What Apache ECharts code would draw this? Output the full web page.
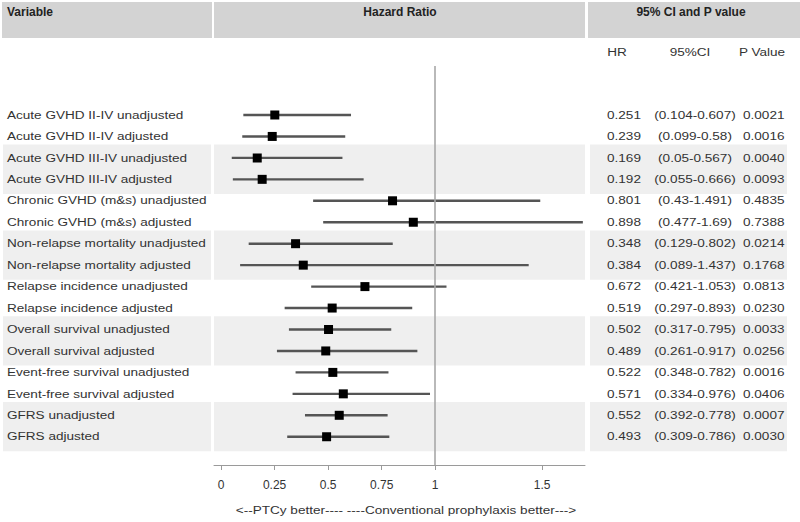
<!DOCTYPE html>
<html><head><meta charset="utf-8">
<script src="https://cdn.jsdelivr.net/npm/echarts@6/dist/echarts.min.js"></script>
<style>html,body{margin:0;padding:0;background:#fff}#c{width:800px;height:522px}</style>
</head><body><div id="c"></div>
<script>
// ---- data ----
const variables = [
  'Acute GVHD II-IV unadjusted','Acute GVHD II-IV adjusted',
  'Acute GVHD III-IV unadjusted','Acute GVHD III-IV adjusted',
  'Chronic GVHD (m&s) unadjusted','Chronic GVHD (m&s) adjusted',
  'Non-relapse mortality unadjusted','Non-relapse mortality adjusted',
  'Relapse incidence unadjusted','Relapse incidence adjusted',
  'Overall survival unadjusted','Overall survival adjusted',
  'Event-free survival unadjusted','Event-free survival adjusted',
  'GFRS unadjusted','GFRS adjusted'
];
const hazardRatios = [0.251,0.239,0.169,0.192,0.801,0.898,0.348,0.384,0.672,0.519,0.502,0.489,0.522,0.571,0.552,0.493];
const ciLower = [0.104,0.099,0.05,0.055,0.43,0.477,0.129,0.089,0.421,0.297,0.317,0.261,0.348,0.334,0.392,0.309];
const ciUpper = [0.607,0.58,0.567,0.666,1.491,1.69,0.802,1.437,1.053,0.893,0.795,0.917,0.782,0.976,0.778,0.786];
const pValues = ['0.0021','0.0016','0.0040','0.0093','0.4835','0.7388','0.0214','0.1768','0.0813','0.0230','0.0033','0.0256','0.0016','0.0406','0.0007','0.0030'];
const xTicks = [0, 0.25, 0.5, 0.75, 1, 1.5];
const shadedRowPairs = [[2,3],[6,7],[10,11],[14,15]];
const headers = ['Variable','Hazard Ratio','95% CI and P value'];
const subHeaders = ['HR','95%CI','P Value'];
const axisTitle = '<--PTCy better---- ----Conventional prophylaxis better--->';

// ---- layout ----
const FONT = '"Liberation Sans", Arial, sans-serif';
const SX = 1.18;
const TXT = '#333';
const rows = variables.map((v, i) => i);
const Y_MIN = -2.284, Y_MAX = 16.317;
const GRID_TOP = 66, GRID_H = 399;

const bandArea = {
  silent: true,
  itemStyle: { color: '#efefef' },
  data: shadedRowPairs.map(([a, b]) => [{ yAxis: a - 0.62 }, { yAxis: b + 0.68 }])
};

function txt(x, y, text, align, opts) {
  return Object.assign({
    type: 'text', x: x, y: y, scaleX: SX,
    style: { text: text, fill: TXT, font: '11.5px ' + FONT,
      textAlign: align, align: align, textVerticalAlign: 'middle', verticalAlign: 'middle' }
  }, opts || {});
}

const chart = echarts.init(document.getElementById('c'), null, { renderer: 'svg' });
chart.setOption({
  animation: false,
  backgroundColor: '#fff',
  grid: [
    { left: 3, top: GRID_TOP, width: 208, height: GRID_H },
    { left: 214, top: GRID_TOP, width: 371, height: GRID_H },
    { left: 590, top: GRID_TOP, width: 197, height: GRID_H }
  ],
  xAxis: [
    { gridIndex: 0, type: 'value', min: 0, max: 208, show: false },
    { gridIndex: 1, type: 'value', min: -0.033, max: 1.70,
      axisLine: { show: true, onZero: false, lineStyle: { color: '#9a9a9a', width: 1 } },
      axisTick: { show: true, customValues: xTicks, length: 5, lineStyle: { color: '#9a9a9a' } },
      axisLabel: { show: true, customValues: xTicks, margin: 14, color: TXT, fontSize: 12, fontFamily: FONT,
        formatter: v => String(v) },
      splitLine: { show: false } },
    { gridIndex: 2, type: 'value', min: 0, max: 197, show: false }
  ],
  yAxis: [0, 1, 2].map(g => ({ gridIndex: g, type: 'value', inverse: true, min: Y_MIN, max: Y_MAX, show: false })),
  graphic: [
    { type: 'rect', shape: { x: 2, y: 2, width: 210, height: 36 }, style: { fill: '#d3d3d3' } },
    { type: 'rect', shape: { x: 214, y: 2, width: 371, height: 36 }, style: { fill: '#d3d3d3' } },
    { type: 'rect', shape: { x: 588, y: 2, width: 212, height: 36 }, style: { fill: '#d3d3d3' } },
    { type: 'text', x: 7, y: 12, style: { text: headers[0], fill: '#222', font: 'bold 12px ' + FONT, align: 'left', verticalAlign: 'middle' } },
    { type: 'text', x: 400, y: 12, style: { text: headers[1], fill: '#222', font: 'bold 12px ' + FONT, align: 'center', verticalAlign: 'middle' } },
    { type: 'text', x: 691, y: 12, style: { text: headers[2], fill: '#222', font: 'bold 12px ' + FONT, align: 'center', verticalAlign: 'middle' } },
    txt(617, 52, subHeaders[0], 'center'),
    txt(690, 52, subHeaders[1], 'center'),
    txt(762, 52, subHeaders[2], 'center'),
    txt(406, 510, axisTitle, 'center')
  ],
  series: [
    {
      type: 'custom', xAxisIndex: 0, yAxisIndex: 0, silent: true,
      data: rows.map(i => [0, i]),
      encode: { x: 0, y: 1 },
      markArea: bandArea,
      renderItem: (params, api) => {
        const p = api.coord([4, api.value(1)]);
        return txt(p[0], p[1], variables[params.dataIndex], 'left');
      }
    },
    {
      type: 'custom', xAxisIndex: 1, yAxisIndex: 1, silent: true,
      data: rows.map(i => [ciLower[i], ciUpper[i], hazardRatios[i], i]),
      encode: { x: [0, 1, 2], y: 3 },
      markArea: bandArea,
      markLine: {
        silent: true, symbol: 'none', label: { show: false },
        lineStyle: { color: '#a8a8a8', width: 1.6, type: 'solid' },
        data: [{ xAxis: 1 }]
      },
      renderItem: (params, api) => {
        const y = api.value(3);
        const lo = api.coord([api.value(0), y]);
        const hi = api.coord([api.value(1), y]);
        const m = api.coord([api.value(2), y]);
        return {
          type: 'group',
          children: [
            { type: 'line', shape: { x1: lo[0], y1: lo[1], x2: hi[0], y2: hi[1] },
              style: { stroke: '#555', lineWidth: 2.4 } },
            { type: 'rect', shape: { x: m[0] - 4.5, y: m[1] - 4.5, width: 9, height: 9 },
              style: { fill: '#000' } }
          ]
        };
      }
    },
    {
      type: 'custom', xAxisIndex: 2, yAxisIndex: 2, silent: true,
      data: rows.map(i => [0, i]),
      encode: { x: 0, y: 1 },
      markArea: bandArea,
      renderItem: (params, api) => {
        const i = params.dataIndex;
        const y = api.value(1);
        const a = api.coord([17, y]), b = api.coord([105, y]), c = api.coord([153, y]);
        return {
          type: 'group',
          children: [
            txt(a[0], a[1], String(hazardRatios[i]), 'left'),
            txt(b[0], b[1], '(' + ciLower[i] + '-' + ciUpper[i] + ')', 'center'),
            txt(c[0], c[1], pValues[i], 'left')
          ]
        };
      }
    }
  ]
});
</script>
</body></html>
